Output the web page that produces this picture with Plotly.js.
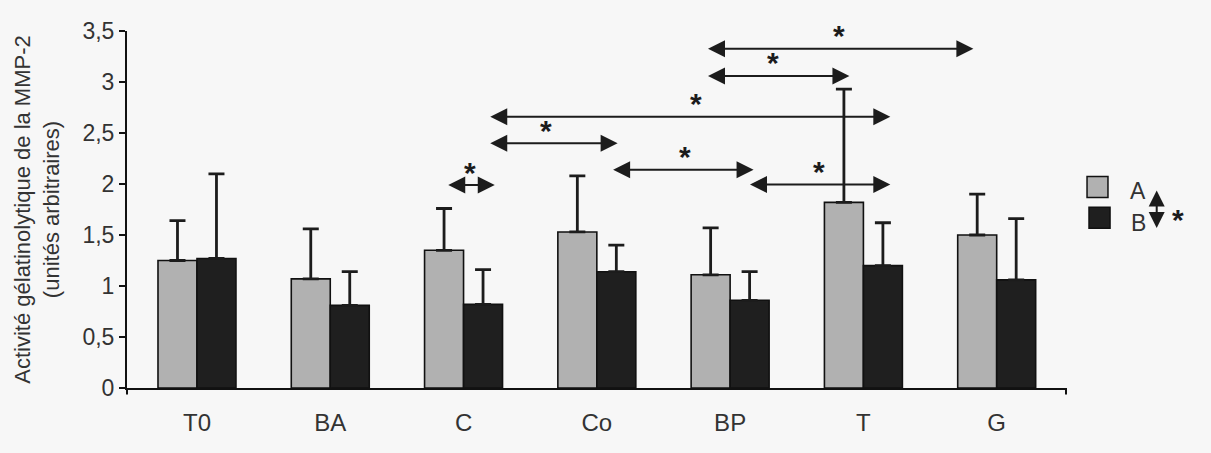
<!DOCTYPE html>
<html>
<head>
<meta charset="utf-8">
<script src="https://cdn.plot.ly/plotly-3.0.1.min.js"></script>
<style>
  html, body { margin: 0; padding: 0; background: #f7f7f7; }
  #chart { width: 1211px; height: 453px; }
</style>
</head>
<body>
<div id="chart"></div>
<script>
// Groups on the x axis
const categories = ['T0', 'BA', 'C', 'Co', 'BP', 'T', 'G'];

// Mean MMP-2 gelatinolytic activity (arbitrary units) and upper SD
const valuesA = [1.25, 1.07, 1.35, 1.53, 1.11, 1.82, 1.50];
const errorsA = [0.39, 0.49, 0.41, 0.55, 0.46, 1.11, 0.40];
const valuesB = [1.27, 0.81, 0.82, 1.14, 0.86, 1.20, 1.06];
const errorsB = [0.83, 0.33, 0.34, 0.26, 0.28, 0.42, 0.60];

// Y tick values
const yTicks = [0, 0.5, 1, 1.5, 2, 2.5, 3, 3.5];

// Significance arrows (x in category index units, y in data units)
const sigArrows = [
  { from: 1.874, to: 2.234, level: 1.99,  star: 2.047 },
  { from: 2.189, to: 3.156, level: 2.40,  star: 2.616 },
  { from: 3.111, to: 4.176, level: 2.14,  star: 3.658 },
  { from: 2.189, to: 5.202, level: 2.66,  star: 3.746 },
  { from: 4.138, to: 5.202, level: 1.995, star: 4.670 },
  { from: 3.823, to: 4.895, level: 3.06,  star: 4.320 },
  { from: 3.823, to: 5.825, level: 3.325, star: 4.820 }
];

const FONT = 'Liberation Sans, Arial, sans-serif';
const TEXT = '#333333';
const INK = '#1c1c1c';

const traceA = {
  type: 'bar', name: 'A', x: categories, y: valuesA,
  marker: { color: '#b1b1b1', line: { color: '#111', width: 1.6 } },
  error_y: { type: 'data', symmetric: false, array: errorsA,
             arrayminus: errorsA.map(() => 0),
             color: INK, thickness: 2.8, width: 8 },
  showlegend: false, hoverinfo: 'x+y'
};
const traceB = {
  type: 'bar', name: 'B', x: categories, y: valuesB,
  marker: { color: '#1f1f1f', line: { color: '#111', width: 1.6 } },
  error_y: { type: 'data', symmetric: false, array: errorsB,
             arrayminus: errorsB.map(() => 0),
             color: INK, thickness: 2.8, width: 8 },
  showlegend: false, hoverinfo: 'x+y'
};

const annotations = [];
sigArrows.forEach(a => {
  annotations.push({
    xref: 'x', yref: 'y', axref: 'x', ayref: 'y',
    x: a.to, y: a.level, ax: a.from, ay: a.level,
    text: '', showarrow: true, arrowside: 'end+start',
    arrowhead: 2, startarrowhead: 2,
    arrowsize: 1.7, startarrowsize: 1.7,
    arrowwidth: 2, arrowcolor: INK, standoff: 0, startstandoff: 0
  });
  annotations.push({
    xref: 'x', yref: 'y', x: a.star, y: a.level, yshift: 13,
    text: '*', showarrow: false,
    font: { family: FONT, size: 30, color: INK, weight: 'bold' }
  });
});

// Hand-built key: A / B with a significance marker between them
annotations.push(
  { xref: 'paper', yref: 'paper', x: 1.0875, y: 0.5518, text: 'A',
    showarrow: false, font: { family: FONT, size: 23, color: TEXT } },
  { xref: 'paper', yref: 'paper', x: 1.0878, y: 0.4622, text: 'B',
    showarrow: false, font: { family: FONT, size: 23, color: TEXT } },
  { xref: 'paper', yref: 'paper', x: 1.0966, y: 0.553, ax: 0, ay: 39,
    axref: 'pixel', ayref: 'pixel',
    text: '', showarrow: true, arrowside: 'end+start',
    arrowhead: 2, startarrowhead: 2, arrowsize: 1.6, startarrowsize: 1.6,
    arrowwidth: 2, arrowcolor: INK, standoff: 0, startstandoff: 0 },
  { xref: 'paper', yref: 'paper', x: 1.128, y: 0.4832, yshift: -4,
    text: '*', showarrow: false,
    font: { family: FONT, size: 30, color: INK, weight: 'bold' } }
);

const shapes = [
  { type: 'rect', xref: 'paper', yref: 'paper',
    x0: 1.0224, x1: 1.0447, y0: 0.5336, y1: 0.5924,
    fillcolor: '#b1b1b1', line: { color: '#111', width: 1.5 } },
  { type: 'rect', xref: 'paper', yref: 'paper',
    x0: 1.0245, x1: 1.0469, y0: 0.4476, y1: 0.5064,
    fillcolor: '#1f1f1f', line: { color: '#111', width: 1.5 } },
  // end ticks on the x axis line
  { type: 'line', xref: 'paper', yref: 'paper', x0: 0, x1: 0, y0: 0, y1: -0.018,
    line: { color: '#111', width: 2 } },
  { type: 'line', xref: 'paper', yref: 'paper', x0: 1, x1: 1, y0: 0, y1: -0.018,
    line: { color: '#111', width: 2 } }
];

const layout = {
  width: 1211, height: 453,
  margin: { l: 127, r: 145, t: 31, b: 65 },
  paper_bgcolor: '#f7f7f7', plot_bgcolor: '#f7f7f7',
  separators: ', ',
  font: { family: FONT, size: 22, color: TEXT },
  barmode: 'group', bargap: 0.415, bargroupgap: 0,
  xaxis: {
    type: 'category', categoryorder: 'array', categoryarray: categories,
    range: [-0.525, 6.52], showgrid: false, zeroline: false,
    showline: true, linecolor: '#111', linewidth: 2,
    ticks: '', ticklabelstandoff: 12,
    tickfont: { family: FONT, size: 24, color: TEXT }
  },
  yaxis: {
    range: [0, 3.5], tickmode: 'array', tickvals: yTicks,
    ticktext: yTicks.map(v => String(v).replace('.', ',')),
    showgrid: false, zeroline: false,
    showline: true, linecolor: '#111', linewidth: 2,
    ticks: 'outside', ticklen: 6, tickwidth: 2, tickcolor: '#111',
    tickfont: { family: FONT, size: 23, color: TEXT },
    title: {
      text: 'Activité gélatinolytique de la MMP-2<br>(unités arbitraires)',
      font: { family: FONT, size: 22, color: TEXT }, standoff: 17
    }
  },
  annotations: annotations,
  shapes: shapes
};

Plotly.newPlot('chart', [traceA, traceB], layout, { displayModeBar: false, staticPlot: true });
</script>
</body>
</html>
